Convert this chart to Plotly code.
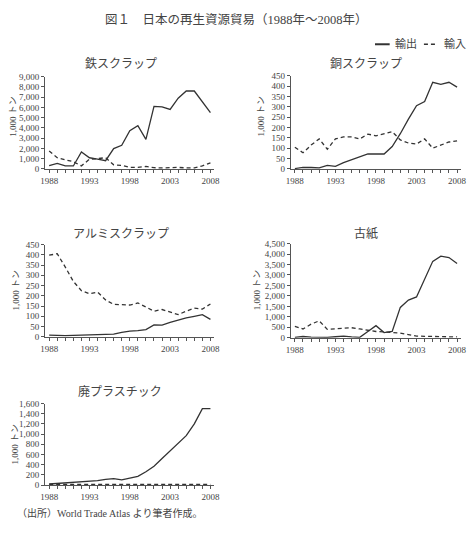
import plotly.graph_objects as go

W, H = 472, 545
years = list(range(1988, 2009))

iron_export = [320, 540, 290, 290, 1660, 1090, 960, 800, 1980, 2300, 3740, 4220, 2880, 6100, 6050, 5800, 6900, 7600, 7600, 6600, 5500]
iron_import = [1750, 1100, 900, 700, 300, 950, 1000, 1100, 400, 350, 150, 150, 250, 120, 100, 150, 150, 100, 100, 300, 600]

copper_export = [2, 8, 7, 5, 17, 12, 30, 45, 58, 73, 72, 72, 108, 170, 240, 305, 325, 418, 408, 418, 395]
copper_import = [105, 78, 115, 145, 95, 145, 155, 155, 145, 168, 160, 170, 180, 140, 125, 120, 145, 100, 115, 130, 135]

alumi_export = [8, 6, 6, 7, 8, 10, 10, 10, 13, 22, 28, 30, 35, 58, 57, 70, 82, 92, 100, 108, 85]
alumi_import = [398, 405, 340, 270, 225, 210, 218, 180, 158, 158, 155, 165, 145, 125, 133, 120, 108, 125, 140, 135, 160]

paper_export = [20, 60, 30, 10, 20, 50, 80, 40, 20, 300, 580, 250, 300, 1450, 1800, 1950, 2800, 3650, 3900, 3830, 3550]
paper_import = [550, 420, 650, 810, 400, 420, 430, 480, 420, 360, 300, 280, 260, 220, 150, 80, 70, 60, 60, 50, 40]

plastic_export = [20, 30, 40, 50, 60, 70, 85, 110, 125, 100, 130, 170, 260, 370, 520, 670, 820, 970, 1200, 1500, 1500]
plastic_import = [10, 10, 10, 10, 10, 10, 10, 10, 10, 10, 10, 10, 10, 10, 10, 10, 10, 10, 10, 10, 10]

panel_titles = ["鉄スクラップ", "銅スクラップ", "アルミスクラップ", "古紙", "廃プラスチック"]
y_max = [9000, 450, 450, 4500, 1600]
y_dtick = [1000, 50, 50, 500, 200]
series = [(iron_export, iron_import), (copper_export, copper_import),
          (alumi_export, alumi_import), (paper_export, paper_import),
          (plastic_export, plastic_import)]

tick_years = [1988, 1993, 1998, 2003, 2008]
xticktext = [str(y) if y in tick_years else "" for y in years]

# pixel layout (left, right, bottom(0), top(max)) per panel
px = [(41, 214, 167, 73), (292, 466, 167, 72), (41, 214, 338, 244),
      (292, 466, 339, 243), (41, 214, 489, 406)]
title_pos = [(118, 60), (369, 60), (118, 233), (369, 233), (117, 394)]
ytitle_pos = [(8, 113), (261, 113), (11, 290), (257, 290), (10, 447)]

FONT = "Liberation Serif, Noto Sans CJK JP, serif"
TXT = "#444"
LINE = "#333"

fig = go.Figure()
layout = dict(
    width=W, height=H, margin=dict(l=0, r=0, t=0, b=0),
    paper_bgcolor="white", plot_bgcolor="white",
    showlegend=False, font=dict(family=FONT, color=TXT, size=9),
)
annotations = []
shapes = []

for i, ((exp, imp), (l, r, b, t)) in enumerate(zip(series, px)):
    n = "" if i == 0 else str(i + 1)
    fig.add_trace(go.Scatter(x=years, y=exp, mode="lines", name="輸出",
                             line=dict(color=LINE, width=1.3),
                             xaxis="x" + n, yaxis="y" + n))
    fig.add_trace(go.Scatter(x=years, y=imp, mode="lines", name="輸入",
                             line=dict(color=LINE, width=1.3, dash="4px,3px"),
                             xaxis="x" + n, yaxis="y" + n))
    layout["xaxis" + n] = dict(
        domain=[l / W, r / W], range=[1987.5, 2008.5], anchor="y" + n,
        tickmode="array", tickvals=years, ticktext=xticktext,
        ticks="outside", ticklen=3, tickcolor="#555", tickwidth=1,
        showline=True, linecolor="#555", linewidth=1,
        showgrid=False, zeroline=False,
        tickfont=dict(family=FONT, size=9, color=TXT),
    )
    layout["yaxis" + n] = dict(
        domain=[1 - b / H, 1 - t / H], range=[0, y_max[i]], anchor="x" + n,
        dtick=y_dtick[i], tickformat=",d",
        ticks="outside", ticklen=3, tickcolor="#555", tickwidth=1,
        showline=True, linecolor="#555", linewidth=1,
        showgrid=False, zeroline=False,
        tickfont=dict(family=FONT, size=9, color=TXT),
    )
    tx, ty = title_pos[i]
    annotations.append(dict(text=panel_titles[i], x=tx / W, y=1 - ty / H,
                            xref="paper", yref="paper", showarrow=False,
                            xanchor="center", yanchor="middle",
                            font=dict(family=FONT, size=12, color=TXT)))
    yx, yy = ytitle_pos[i]
    annotations.append(dict(text="1,000 トン", x=yx / W, y=1 - yy / H,
                            xref="paper", yref="paper", showarrow=False,
                            textangle=-90, xanchor="center", yanchor="middle",
                            font=dict(family=FONT, size=9, color=TXT)))

# main title
annotations.append(dict(text="図１　日本の再生資源貿易（1988年～2008年）",
                        x=237 / W, y=1 - 15 / H, xref="paper", yref="paper",
                        showarrow=False, xanchor="center", yanchor="middle",
                        font=dict(family=FONT, size=12.5, color=TXT)))
# legend
shapes.append(dict(type="line", xref="paper", yref="paper",
                   x0=378 / W, x1=393 / W, y0=1 - 40 / H, y1=1 - 40 / H,
                   line=dict(color=LINE, width=2)))
annotations.append(dict(text="輸出", x=396 / W, y=1 - 40 / H, xref="paper", yref="paper",
                        showarrow=False, xanchor="left", yanchor="middle",
                        font=dict(family=FONT, size=11, color=TXT)))
shapes.append(dict(type="line", xref="paper", yref="paper",
                   x0=428 / W, x1=442 / W, y0=1 - 40 / H, y1=1 - 40 / H,
                   line=dict(color=LINE, width=1.5, dash="4px,3px")))
annotations.append(dict(text="輸入", x=446 / W, y=1 - 40 / H, xref="paper", yref="paper",
                        showarrow=False, xanchor="left", yanchor="middle",
                        font=dict(family=FONT, size=11, color=TXT)))
# source
annotations.append(dict(text="（出所）World Trade Atlas より筆者作成。",
                        x=10 / W, y=1 - 518 / H, xref="paper", yref="paper",
                        showarrow=False, xanchor="left", yanchor="middle",
                        font=dict(family=FONT, size=10, color=TXT)))

layout["annotations"] = annotations
layout["shapes"] = shapes
fig.update_layout(**layout)
fig.write_html("out.html")
